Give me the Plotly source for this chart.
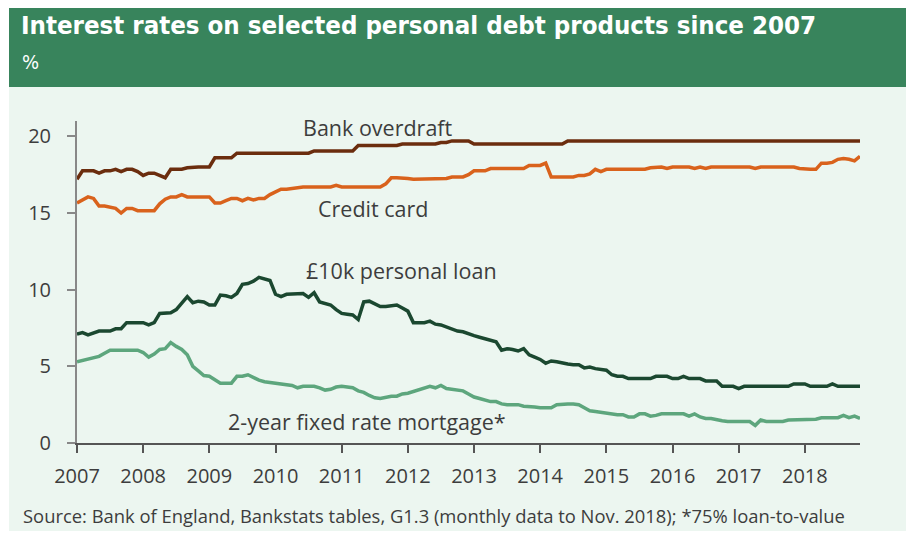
import plotly.graph_objects as go

# Monthly data, Jan 2007 to Nov 2018 (per cent)
start_year = 2007
overdraft = [
    17.2, 17.75, 17.75, 17.75, 17.6, 17.75, 17.75, 17.85, 17.7, 17.85, 17.85, 17.7,
    17.45, 17.6, 17.6, 17.45, 17.3, 17.85, 17.85, 17.85, 17.95, 18.0, 18.0, 18.0,
    18.0, 18.6, 18.6, 18.6, 18.6, 18.9, 18.9, 18.9, 18.9, 18.9, 18.9, 18.9,
    18.9, 18.9, 18.9, 18.9, 18.9, 18.9, 18.9, 19.05, 19.05, 19.05, 19.05, 19.05,
    19.05, 19.05, 19.05, 19.4, 19.4, 19.4, 19.4, 19.4, 19.4, 19.4, 19.4, 19.5,
    19.5, 19.5, 19.5, 19.5, 19.5, 19.5, 19.6, 19.6, 19.7, 19.7, 19.7, 19.7,
    19.5, 19.5, 19.5, 19.5, 19.5, 19.5, 19.5, 19.5, 19.5, 19.5, 19.5, 19.5,
    19.5, 19.5, 19.5, 19.5, 19.5, 19.7, 19.7, 19.7, 19.7, 19.7, 19.7, 19.7,
    19.7, 19.7, 19.7, 19.7, 19.7, 19.7, 19.7, 19.7, 19.7, 19.7, 19.7, 19.7,
    19.7, 19.7, 19.7, 19.7, 19.7, 19.7, 19.7, 19.7, 19.7, 19.7, 19.7, 19.7,
    19.7, 19.7, 19.7, 19.7, 19.7, 19.7, 19.7, 19.7, 19.7, 19.7, 19.7, 19.7,
    19.7, 19.7, 19.7, 19.7, 19.7, 19.7, 19.7, 19.7, 19.7, 19.7, 19.7,
]
credit_card = [
    15.65, 15.85, 16.05, 15.95, 15.45, 15.45, 15.35, 15.3, 15.0, 15.3, 15.3, 15.15,
    15.15, 15.15, 15.15, 15.6, 15.9, 16.05, 16.05, 16.2, 16.05, 16.05, 16.05, 16.05,
    16.05, 15.65, 15.65, 15.8, 15.95, 15.95, 15.8, 15.95, 15.85, 15.95, 15.95, 16.2,
    16.4, 16.55, 16.55, 16.6, 16.7, 16.7, 16.7, 16.7, 16.7, 16.7, 16.7, 16.8,
    16.7, 16.7, 16.7, 16.7, 16.7, 16.7, 16.7, 16.7, 16.9, 17.3, 17.3, 17.3,
    17.25, 17.2, 17.2, 17.2, 17.2, 17.2, 17.2, 17.25, 17.35, 17.35, 17.35, 17.5,
    17.75, 17.75, 17.75, 17.9, 17.9, 17.9, 17.9, 17.9, 17.9, 17.9, 18.1, 18.1,
    18.1, 18.25, 17.35, 17.35, 17.35, 17.35, 17.35, 17.45, 17.45, 17.55, 17.85, 17.7,
    17.85, 17.85, 17.85, 17.85, 17.85, 17.85, 17.85, 17.85, 17.95, 18.0, 18.0, 17.9,
    18.0, 18.0, 18.0, 18.0, 17.9, 18.0, 17.9, 18.0, 18.0, 18.0, 18.0, 18.0,
    18.0, 18.0, 18.0, 17.9, 18.0, 18.0, 18.0, 18.0, 18.0, 18.0, 18.0, 17.9,
    17.85, 17.85, 17.85, 18.25, 18.25, 18.3, 18.5, 18.55, 18.5, 18.4, 18.7,
]
personal_loan = [
    7.1, 7.2, 7.05, 7.15, 7.3, 7.3, 7.3, 7.45, 7.45, 7.85, 7.85, 7.85,
    7.85, 7.7, 7.85, 8.45, 8.45, 8.5, 8.7, 9.1, 9.55, 9.15, 9.25, 9.2,
    9.0, 9.0, 9.65, 9.6, 9.5, 9.75, 10.35, 10.4, 10.55, 10.8, 10.7, 10.6,
    9.7, 9.55, 9.7, 9.7, 9.75, 9.75, 9.5, 9.8, 9.2, 9.1, 9.0, 8.7,
    8.45, 8.4, 8.35, 8.05, 9.2, 9.25, 9.05, 8.9, 8.9, 8.95, 9.0, 8.8,
    8.6, 7.85, 7.85, 7.85, 7.95, 7.75, 7.7, 7.55, 7.45, 7.3, 7.25, 7.1,
    7.0, 6.9, 6.8, 6.65, 6.6, 6.05, 6.15, 6.1, 6.0, 6.15, 5.75, 5.6,
    5.45, 5.2, 5.35, 5.3, 5.2, 5.15, 5.1, 5.1, 4.9, 4.95, 4.85, 4.8,
    4.75, 4.45, 4.35, 4.35, 4.2, 4.2, 4.2, 4.2, 4.2, 4.35, 4.35, 4.35,
    4.2, 4.2, 4.35, 4.2, 4.2, 4.2, 4.05, 4.05, 4.05, 3.7, 3.7, 3.7,
    3.55, 3.7, 3.7, 3.7, 3.7, 3.7, 3.7, 3.7, 3.7, 3.7, 3.85, 3.85,
    3.85, 3.7, 3.7, 3.7, 3.7, 3.85, 3.7, 3.7, 3.7, 3.7, 3.7,
]
mortgage = [
    5.3, 5.4, 5.5, 5.55, 5.65, 5.85, 6.05, 6.05, 6.05, 6.05, 6.05, 6.05,
    5.9, 5.6, 5.8, 6.1, 6.15, 6.55, 6.3, 6.1, 5.75, 5.0, 4.7, 4.4,
    4.35, 4.1, 3.9, 3.9, 3.9, 4.35, 4.35, 4.45, 4.25, 4.1, 4.0, 3.95,
    3.9, 3.85, 3.8, 3.75, 3.6, 3.7, 3.7, 3.7, 3.6, 3.45, 3.5, 3.65,
    3.7, 3.65, 3.6, 3.4, 3.3, 3.1, 2.95, 2.9, 3.0, 3.05, 3.05, 3.2,
    3.25, 3.35, 3.5, 3.6, 3.7, 3.6, 3.75, 3.55, 3.5, 3.45, 3.4, 3.2,
    3.0, 2.9, 2.8, 2.7, 2.7, 2.55, 2.5, 2.5, 2.5, 2.4, 2.4, 2.35,
    2.3, 2.3, 2.3, 2.5, 2.55, 2.55, 2.55, 2.5, 2.3, 2.1, 2.05, 2.0,
    1.95, 1.85, 1.85, 1.85, 1.7, 1.7, 1.9, 1.9, 1.75, 1.8, 1.9, 1.9,
    1.9, 1.9, 1.9, 1.75, 1.9, 1.7, 1.6, 1.6, 1.5, 1.45, 1.4, 1.4,
    1.4, 1.4, 1.4, 1.15, 1.5, 1.4, 1.4, 1.4, 1.4, 1.5, 1.5, 1.5,
    1.5, 1.5, 1.55, 1.65, 1.65, 1.65, 1.65, 1.8, 1.65, 1.75, 1.6,
]
year_ticks = list(range(2007, 2019))
y_ticks = [0, 5, 10, 15, 20]

series = [
    ("Bank overdraft", overdraft, "#6B2D0E"),
    ("Credit card", credit_card, "#D9621C"),
    ("£10k personal loan", personal_loan, "#1B4830"),
    ("2-year fixed rate mortgage*", mortgage, "#5DA67D"),
]

months = [start_year + i / 12 for i in range(len(overdraft))]

W, H = 914, 541
ML, MR, MT, MB = 77, 54, 121, 98
pw, ph = W - ML - MR, H - MT - MB


def px(x):
    return (x - ML) / pw


def py(y):
    return (H - MB - y) / ph


fig = go.Figure()
for name, vals, col in series:
    fig.add_trace(go.Scatter(x=months, y=vals, mode="lines", name=name,
                             line=dict(color=col, width=3.5), hoverinfo="skip"))

shapes = [
    # light panel
    dict(type="rect", xref="paper", yref="paper", x0=px(9), x1=px(906),
         y0=py(531), y1=py(87), fillcolor="#ECF6F0", line_width=0, layer="below"),
    # header band
    dict(type="rect", xref="paper", yref="paper", x0=px(9), x1=px(906),
         y0=py(87), y1=py(8), fillcolor="#38845C", line_width=0, layer="below"),
]

text_col = "#3D3D3D"
body_font = "Open Sans, Noto Sans, sans-serif"
narrow_font = "Liberation Sans Narrow, DejaVu Sans Condensed, sans-serif"


def label(text, x, y, size=21.5, anchor="center", family=body_font, color=text_col):
    return dict(text=text, x=px(x), y=py(y), xref="paper", yref="paper",
                xanchor=anchor, yanchor="middle", showarrow=False,
                font=dict(family=family, size=size, color=color))


annotations = [
    label("<b>Interest rates on selected personal debt products since 2007</b>",
          19, 25, size=25.6, anchor="left", family=narrow_font, color="white"),
    label("%", 20, 62, size=20, anchor="left", family=narrow_font, color="white"),
    label("Source: Bank of England, Bankstats tables, G1.3 (monthly data to Nov. 2018); *75% loan-to-value",
          21, 515, size=18.4, anchor="left"),
    label("Bank overdraft", 378, 127),
    label("Credit card", 373, 208),
    label("£10k personal loan", 401, 270),
    label("2-year fixed rate mortgage*", 367, 421),
]

fig.update_layout(
    width=W, height=H,
    margin=dict(l=ML, r=MR, t=MT, b=MB, pad=0),
    paper_bgcolor="white",
    plot_bgcolor="rgba(0,0,0,0)",
    showlegend=False,
    shapes=shapes,
    annotations=annotations,
    xaxis=dict(range=[start_year, months[-1]], tickvals=year_ticks,
               ticktext=[str(y) for y in year_ticks], showgrid=False, zeroline=False,
               showline=True, linecolor="#555555", linewidth=2,
               ticks="outside", ticklen=8, tickwidth=1.5, tickcolor="#555555",
               ticklabelstandoff=6,
               tickfont=dict(family=body_font, size=20, color=text_col)),
    yaxis=dict(range=[0, 21], tickvals=y_ticks, showgrid=False, zeroline=False,
               showline=True, linecolor="#888888", linewidth=2,
               ticks="outside", ticklen=8, tickwidth=1.5, tickcolor="#888888",
               ticklabelstandoff=12,
               tickfont=dict(family=body_font, size=20, color=text_col)),
)

fig.write_html("out.html")
